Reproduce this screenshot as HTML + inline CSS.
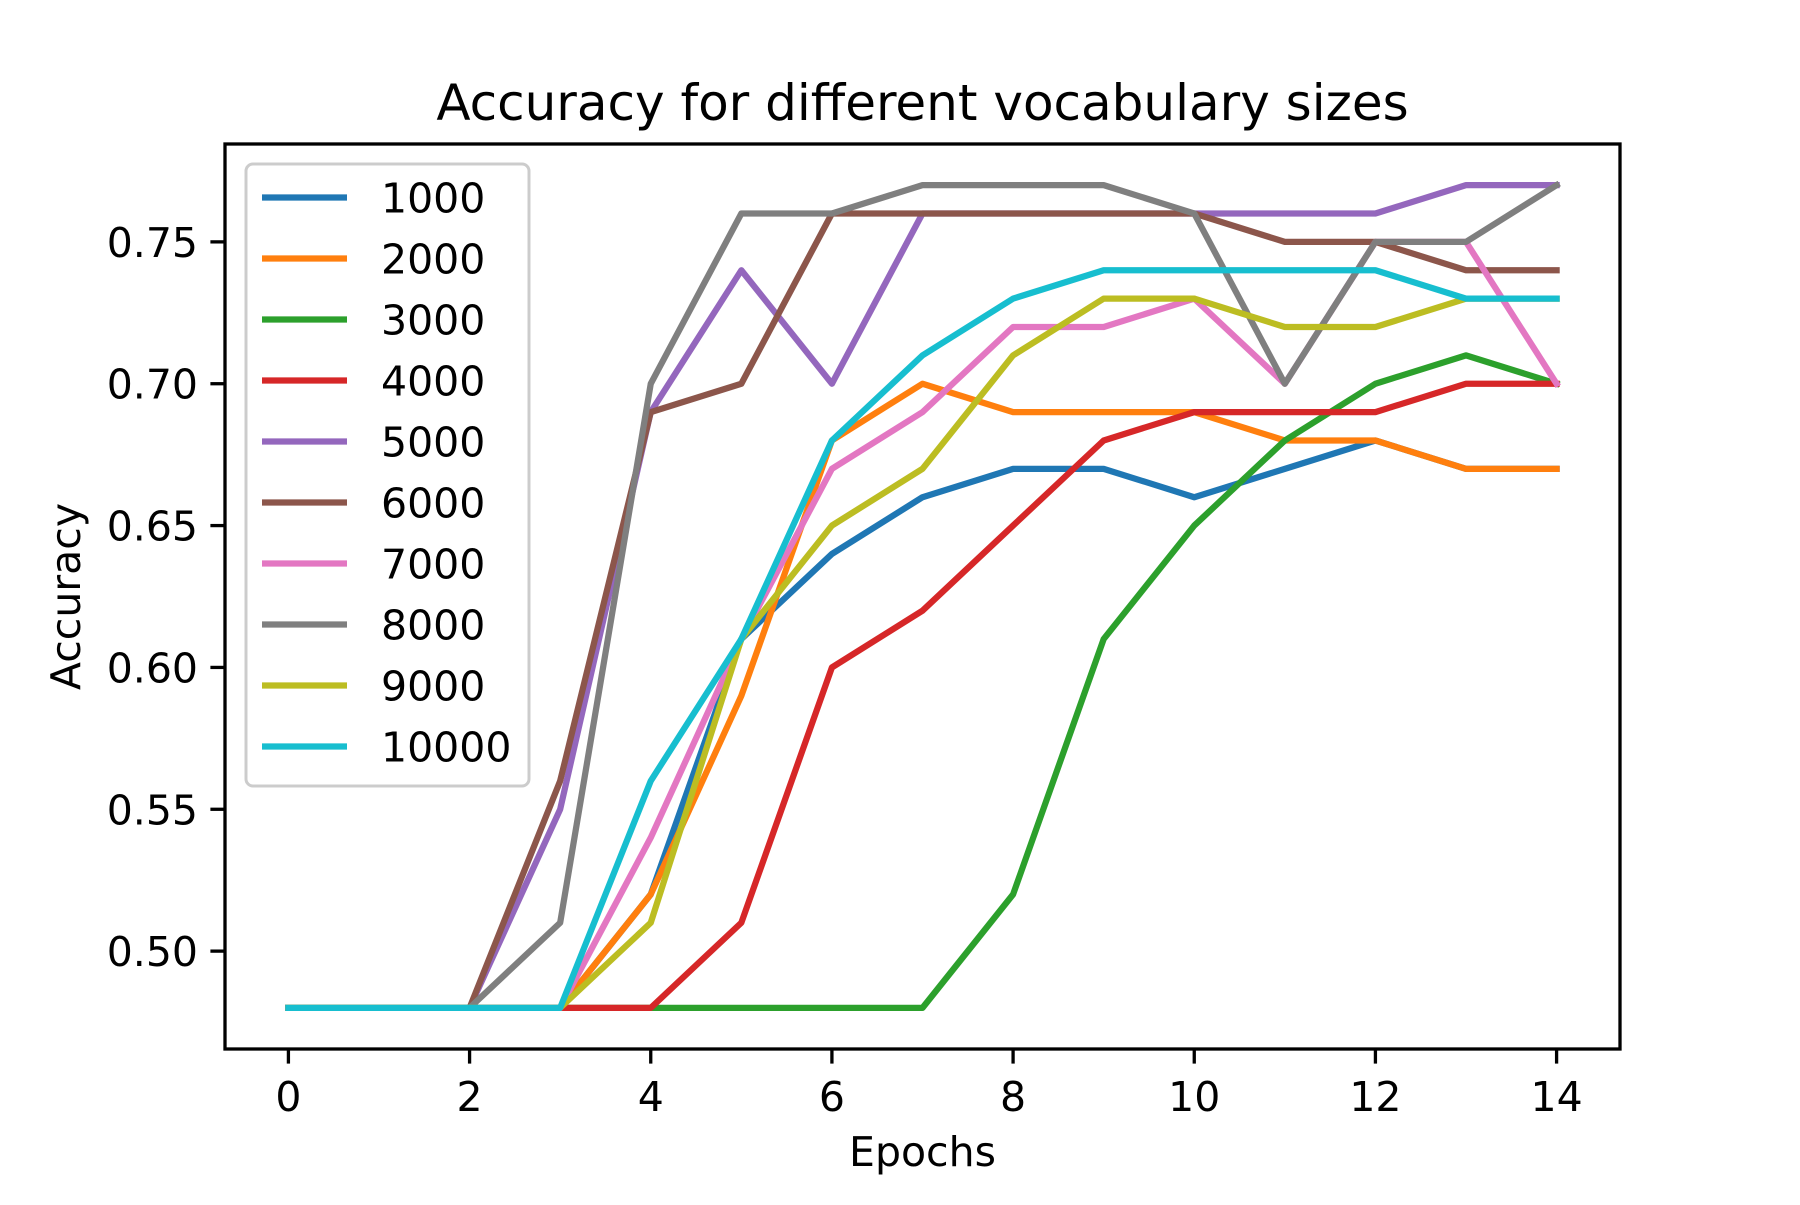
<!DOCTYPE html>
<html><head><meta charset="utf-8"><style>
html,body{margin:0;padding:0;background:#fff;}
svg text{font-family:"DejaVu Sans","Liberation Sans",sans-serif;fill:#000;}
</style></head><body>
<svg id="chart" width="1800" height="1200" xmlns="http://www.w3.org/2000/svg">
<rect width="1800" height="1200" fill="#fff"/>
<g id="lines"></g>
<g id="axes"></g>
</svg>
<script>
const epochs = [0,1,2,3,4,5,6,7,8,9,10,11,12,13,14];
const seriesNames = ['1000','2000','3000','4000','5000','6000','7000','8000','9000','10000'];
const colors = ['#1f77b4','#ff7f0e','#2ca02c','#d62728','#9467bd','#8c564b','#e377c2','#7f7f7f','#bcbd22','#17becf'];
const s1000 = [0.48,0.48,0.48,0.48,0.52,0.61,0.64,0.66,0.67,0.67,0.66,0.67,0.68,0.67,0.67];
const s2000 = [0.48,0.48,0.48,0.48,0.52,0.59,0.68,0.70,0.69,0.69,0.69,0.68,0.68,0.67,0.67];
const s3000 = [0.48,0.48,0.48,0.48,0.48,0.48,0.48,0.48,0.52,0.61,0.65,0.68,0.70,0.71,0.70];
const s4000 = [0.48,0.48,0.48,0.48,0.48,0.51,0.60,0.62,0.65,0.68,0.69,0.69,0.69,0.70,0.70];
const s5000 = [0.48,0.48,0.48,0.55,0.69,0.74,0.70,0.76,0.76,0.76,0.76,0.76,0.76,0.77,0.77];
const s6000 = [0.48,0.48,0.48,0.56,0.69,0.70,0.76,0.76,0.76,0.76,0.76,0.75,0.75,0.74,0.74];
const s7000 = [0.48,0.48,0.48,0.48,0.54,0.61,0.67,0.69,0.72,0.72,0.73,0.70,0.75,0.75,0.70];
const s8000 = [0.48,0.48,0.48,0.51,0.70,0.76,0.76,0.77,0.77,0.77,0.76,0.70,0.75,0.75,0.77];
const s9000 = [0.48,0.48,0.48,0.48,0.51,0.61,0.65,0.67,0.71,0.73,0.73,0.72,0.72,0.73,0.73];
const s10000 = [0.48,0.48,0.48,0.48,0.56,0.61,0.68,0.71,0.73,0.74,0.74,0.74,0.74,0.73,0.73];
const xTicks = [0,2,4,6,8,10,12,14];
const yTicks = [0.50,0.55,0.60,0.65,0.70,0.75];
const yTickLabels = ['0.50','0.55','0.60','0.65','0.70','0.75'];

const allSeries = [s1000,s2000,s3000,s4000,s5000,s6000,s7000,s8000,s9000,s10000];
const L=225,R=1620,T=144,B=1049;
const xmin=Math.min(...epochs),xmax=Math.max(...epochs),xp=(xmax-xmin)*0.05;
const allV=allSeries.flat();const ymin=Math.min(...allV),ymax=Math.max(...allV),yp=(ymax-ymin)*0.05;
const sx=v=>L+(v-(xmin-xp))/((xmax+xp)-(xmin-xp))*(R-L);
const sy=v=>B-(v-(ymin-yp))/((ymax+yp)-(ymin-yp))*(B-T);
const NS='http://www.w3.org/2000/svg';
function mk(tag,attrs,parent){const e=document.createElementNS(NS,tag);for(const k in attrs)e.setAttribute(k,attrs[k]);parent.appendChild(e);return e;}
const gl=document.getElementById('lines'),ga=document.getElementById('axes');
allSeries.forEach((s,i)=>{
  const p=mk('polyline',{points:s.map((v,j)=>sx(epochs[j])+','+sy(v)).join(' '),fill:'none',stroke:colors[i],'stroke-width':6.25,'stroke-linejoin':'round','stroke-linecap':'square'},gl);
  
  
});
const frame=mk('rect',{x:L,y:T,width:R-L,height:B-T,fill:'none',stroke:'#000','stroke-width':3.3},ga);


xTicks.forEach(t=>{
  const x=sx(t);
  mk('line',{x1:x,x2:x,y1:B,y2:B+14.6,stroke:'#000','stroke-width':3.3},ga);
  const tx=mk('text',{x:x,y:B+62,'text-anchor':'middle','font-size':41},ga);tx.textContent=t;
  
  
});
yTicks.forEach((t,i)=>{
  const y=sy(t);
  mk('line',{x1:L-14.6,x2:L,y1:y,y2:y,stroke:'#000','stroke-width':3.3},ga);
  const tx=mk('text',{x:L-27,y:y+15,'text-anchor':'end','font-size':41},ga);tx.textContent=yTickLabels[i];
  
  
});
const title=mk('text',{x:(L+R)/2,y:120,'text-anchor':'middle','font-size':50},ga);title.textContent='Accuracy for different vocabulary sizes';


const xl=mk('text',{x:(L+R)/2,y:1166,'text-anchor':'middle','font-size':41},ga);xl.textContent='Epochs';


const yl=mk('text',{x:0,y:0,'text-anchor':'middle','font-size':41,transform:'translate(80,'+((T+B)/2)+') rotate(-90)'},ga);yl.textContent='Accuracy';


const lg=mk('g',{},ga);


mk('rect',{x:246,y:164,width:283,height:622,rx:7,fill:'#fff','fill-opacity':0.8,stroke:'#ccc','stroke-width':3},lg);
seriesNames.forEach((n,i)=>{
  const y=197.5+i*61;
  const e=mk('g',{},lg);
  
  
  mk('line',{x1:262,x2:347,y1:y,y2:y,stroke:colors[i],'stroke-width':6.25},e);
  const t=mk('text',{x:381,y:y+15,'font-size':41},e);t.textContent=n;
});
</script>
</body></html>
